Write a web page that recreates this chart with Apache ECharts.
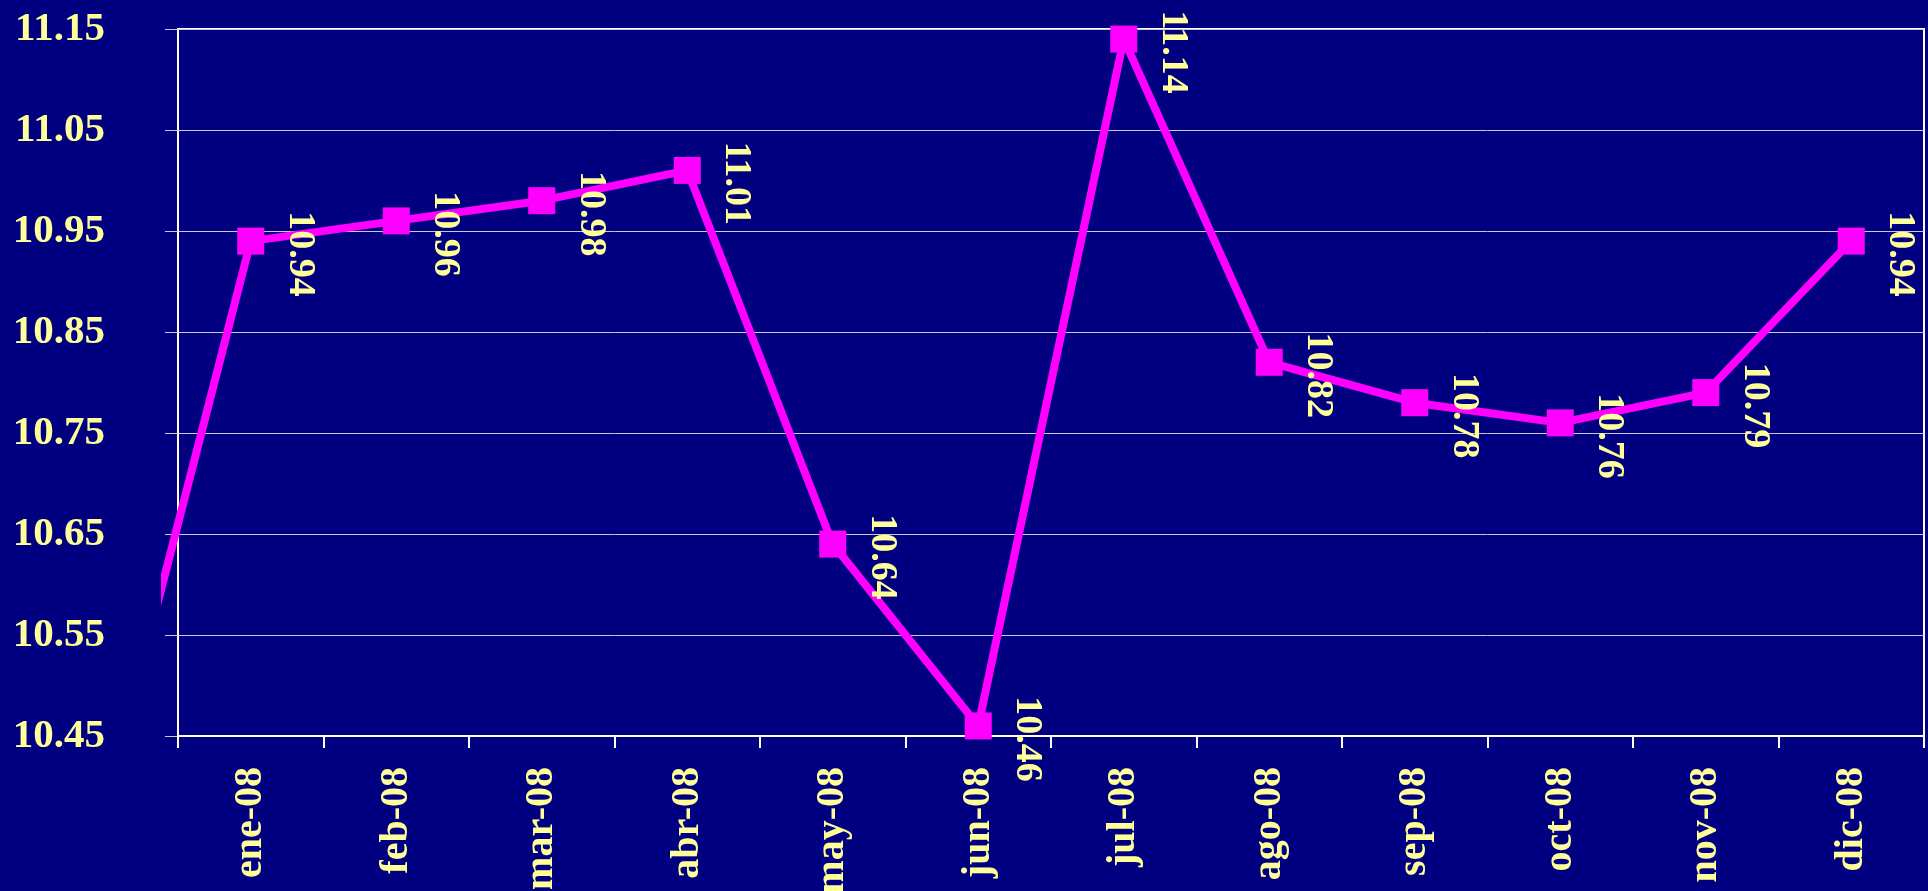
<!DOCTYPE html>
<html>
<head>
<meta charset="utf-8">
<script src="https://cdn.jsdelivr.net/npm/echarts@6/dist/echarts.min.js"></script>
<style>
    html, body { margin: 0; padding: 0; background: #000080; }
    #chart { width: 1928px; height: 891px; }
</style>
</head>
<body>
<div id="chart"></div>
<script>
    // months shown on the axis
    var months = ['ene-08', 'feb-08', 'mar-08', 'abr-08', 'may-08', 'jun-08',
        'jul-08', 'ago-08', 'sep-08', 'oct-08', 'nov-08', 'dic-08'];
    var values = [10.94, 10.96, 10.98, 11.01, 10.64, 10.46, 11.14, 10.82, 10.78, 10.76, 10.79, 10.94];
    // point before ene-08, only its segment is visible (cut at the left)
    var prevValue = 10.38;
    var yTicks = [10.45, 10.55, 10.65, 10.75, 10.85, 10.95, 11.05, 11.15];

    var W = 1928, gLeft = 178, gRight = 4, gTop = 29, gBottom = 155, clipLeft = 165;
    var band = (W - gLeft - gRight) / months.length;
    var xMax = months.length + 0.5;
    var xMin = xMax - (W - clipLeft - gRight) / band;

    var yMin = yTicks[0], yMax = yTicks[yTicks.length - 1], yStep = 0.1;

    var lineData = [{value: [0, prevValue], symbol: 'none', label: {show: false}}];
    for (var i = 0; i < values.length; i++) {
        lineData.push([i + 1, values[i]]);
    }

    var font = 'Liberation Serif';
    var yellow = '#FFFF99';

    var myChart = echarts.init(document.getElementById('chart'));
    var option = {
        backgroundColor: '#000080',
        animation: false,
        grid: [
            {left: gLeft, right: gRight, top: gTop, bottom: gBottom, outerBoundsMode: 'none',
                show: true, borderColor: '#ffffff', borderWidth: 2, backgroundColor: 'transparent'},
            {left: clipLeft, right: gRight, top: gTop, bottom: gBottom, outerBoundsMode: 'none'}
        ],
        xAxis: [{
            type: 'category',
            gridIndex: 0,
            data: months,
            boundaryGap: true,
            axisLine: {lineStyle: {color: '#ffffff', width: 2}},
            axisTick: {show: true, length: 12, lineStyle: {color: '#ffffff', width: 2}},
            axisLabel: {rotate: 90, margin: 31, color: yellow, fontFamily: font,
                fontWeight: 'bold', fontSize: 40},
            splitLine: {show: false}
        }, {
            type: 'value',
            gridIndex: 1,
            min: xMin,
            max: xMax,
            show: false
        }],
        yAxis: [{
            type: 'value',
            gridIndex: 0,
            min: yMin,
            max: yMax,
            interval: yStep,
            axisLine: {show: true, lineStyle: {color: '#ffffff', width: 2}},
            axisTick: {show: true, length: 13, lineStyle: {color: '#c8c8dc', width: 1}},
            axisLabel: {margin: 73, color: yellow, fontFamily: font, fontWeight: 'bold', fontSize: 41,
                formatter: function (v) { return v.toFixed(2); }},
            splitLine: {show: true, lineStyle: {color: '#c8c8dc', width: 1}}
        }, {
            type: 'value',
            gridIndex: 1,
            min: yMin,
            max: yMax,
            show: false
        }],
        series: [{
            type: 'line',
            xAxisIndex: 1,
            yAxisIndex: 1,
            data: lineData,
            clip: true,
            symbol: 'rect',
            symbolSize: 27,
            lineStyle: {color: '#ff00ff', width: 8},
            itemStyle: {color: '#ff00ff'},
            label: {
                show: true,
                position: 'inside',
                rotate: -90,
                align: 'center',
                verticalAlign: 'middle',
                offset: [13, -49],
                color: yellow,
                fontFamily: font,
                fontWeight: 'bold',
                fontSize: 38,
                formatter: function (p) { return p.value[1].toFixed(2); }
            }
        }]
    };
    myChart.setOption(option);
</script>
</body>
</html>
